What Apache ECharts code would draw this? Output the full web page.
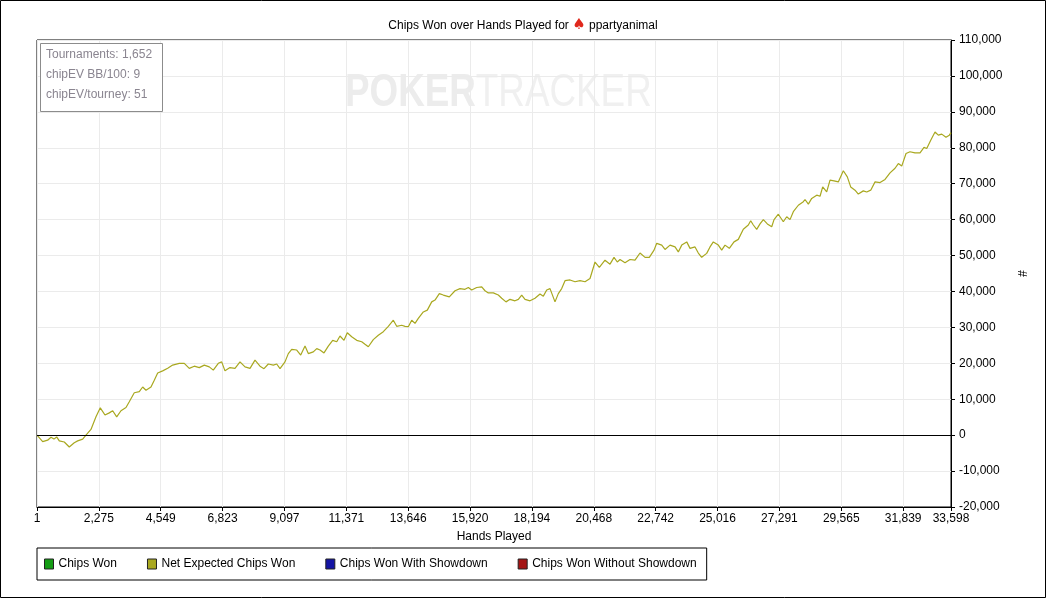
<!DOCTYPE html>
<html lang="en">
<head>
<meta charset="UTF-8">
<title>Chips Won over Hands Played</title>
<script src="https://cdn.jsdelivr.net/npm/echarts@6/dist/echarts.min.js"></script>
<style>
  html, body { margin: 0; padding: 0; background: #fff; }
  #main { width: 1046px; height: 598px; }
</style>
</head>
<body>
<div id="main"></div>
<script>
// hands played (x) and net expected chips won (y)
var hands = [
  1, 27, 210, 393, 515, 625, 724, 820, 1004, 1187, 1371, 1496, 1680, 1801, 1985,
  2169, 2327, 2500, 2658, 2783, 2930, 3088, 3272, 3393, 3577, 3761, 3886, 4007, 4191, 4312,
  4437, 4621, 4805, 4988, 5231, 5415, 5599, 5782, 5966, 6150, 6334, 6481, 6665, 6790, 6911,
  7095, 7279, 7463, 7647, 7831, 8014, 8198, 8345, 8503, 8687, 8812, 8934, 9117, 9239, 9364,
  9548, 9695, 9853, 9974, 10158, 10283, 10404, 10551, 10709, 10870, 11018, 11139, 11286, 11407, 11569,
  11753, 11937, 12058, 12180, 12363, 12547, 12731, 12915, 13099, 13223, 13407, 13529, 13650, 13775, 13896,
  14017, 14201, 14348, 14510, 14631, 14790, 14936, 15157, 15367, 15550, 15734, 15856, 15980, 16164, 16348,
  16469, 16591, 16775, 16958, 17082, 17241, 17388, 17572, 17694, 17818, 17940, 18124, 18307, 18491, 18613,
  18737, 18859, 19042, 19164, 19288, 19410, 19594, 19778, 19962, 20145, 20329, 20513, 20671, 20880, 21064,
  21211, 21332, 21432, 21615, 21799, 21983, 22167, 22351, 22509, 22682, 22781, 22965, 23086, 23270, 23454,
  23575, 23700, 23884, 24005, 24189, 24310, 24434, 24618, 24740, 24861, 25045, 25169, 25291, 25449, 25622,
  25780, 25964, 26148, 26236, 26332, 26456, 26578, 26700, 26847, 27008, 27093, 27251, 27434, 27559, 27681,
  27802, 27986, 28170, 28232, 28354, 28478, 28662, 28784, 28882, 29029, 29151, 29298, 29456, 29640, 29787,
  29911, 30070, 30191, 30375, 30500, 30647, 30806, 30990, 31173, 31357, 31541, 31662, 31787, 31945, 32091,
  32275, 32459, 32606, 32706, 32853, 33011, 33132, 33257, 33414, 33536, 33598
];
var netExpected = [
  0, 0, -1800, -1400, -600, -1100, -500, -1600, -1900, -3300, -2100, -1600, -1100, 0, 1600,
  5100, 7600, 5600, 6200, 6800, 5100, 6800, 7700, 9300, 11800, 12100, 13400, 12500, 13400, 15300,
  17300, 17900, 18600, 19500, 20000, 20000, 18600, 19200, 18800, 19500, 19000, 18100, 20000, 20400, 17900,
  18800, 18600, 20400, 19000, 18600, 20900, 19200, 18500, 19800, 19500, 19800, 18500, 20400, 22700, 23900,
  23700, 22300, 24800, 22700, 23200, 24100, 23700, 22900, 24800, 26400, 26000, 27600, 26400, 28500, 27400,
  26400, 26000, 25300, 24600, 26600, 27800, 28800, 30300, 32000, 30300, 30600, 30300, 30200, 32000, 31100,
  32500, 34300, 34800, 37100, 37600, 39400, 39000, 38500, 40200, 40800, 40600, 41100, 40400, 41100, 41300,
  40200, 39600, 39600, 39000, 38100, 37100, 37800, 37400, 37800, 39000, 37800, 37400, 38100, 39300, 38700,
  40400, 40800, 37100, 39400, 40800, 43000, 43200, 42700, 43000, 42700, 43600, 48200, 46700, 48700, 47600,
  49500, 48200, 48900, 48000, 48900, 48700, 50700, 49500, 49500, 51500, 53400, 52900, 51700, 52900, 52400,
  51000, 52900, 53800, 52000, 52400, 50700, 49500, 50600, 52400, 53800, 52900, 51500, 52900, 52000, 53800,
  54500, 57300, 58500, 59700, 58500, 57300, 58800, 60000, 58800, 58000, 60000, 61500, 59400, 60800, 60000,
  62200, 64000, 65000, 65600, 64300, 65900, 66800, 66500, 69100, 67700, 71000, 70800, 70500, 73600, 71900,
  69100, 68200, 67100, 68000, 67700, 68200, 70500, 70300, 71200, 73000, 74300, 75600, 74900, 78400, 78900,
  78600, 78600, 80100, 79800, 82100, 84400, 83500, 83800, 82900, 83500, 84200
];

var seriesNames = ['Chips Won', 'Net Expected Chips Won', 'Chips Won With Showdown', 'Chips Won Without Showdown'];
var seriesColors = ['#149c14', '#a9a820', '#1414a4', '#a41414'];
var infoLines = ['Tournaments: 1,652', 'chipEV BB/100: 9', 'chipEV/tourney: 51'];
var handTickStep = 2274.17;   // x ticks: 1, 2,275, 4,549 ... 31,839, 33,598

var fmt = function (v) { return Math.round(v).toLocaleString('en-US'); };
var FONT = 'Liberation Sans';

var myChart = echarts.init(document.getElementById('main'));

var series = seriesNames.map(function (name, i) {
  return {
    name: name,
    type: 'line',
    showSymbol: false,
    silent: true,
    lineStyle: { width: 1.2, color: seriesColors[i] },
    itemStyle: { color: seriesColors[i] },
    data: []
  };
});
// only the net expected line is plotted; x is stored as hands-1 so ticks start at 0
series[1].data = hands.map(function (h, i) { return [h - 1, netExpected[i]]; });
series[1].markLine = {
  silent: true,
  symbol: 'none',
  label: { show: false },
  lineStyle: { color: '#000', width: 1, type: 'solid' },
  data: [{ yAxis: 0 }]
};

myChart.setOption({
  animation: false,
  backgroundColor: '#fff',
  textStyle: { fontFamily: FONT },
  title: {
    left: 'center',
    top: 13,
    text: '{t|Chips Won over Hands Played for }{s|♠}{t| ppartyanimal}',
    textStyle: {
      fontWeight: 'normal',
      rich: {
        t: { fontFamily: FONT, fontSize: 12, fontWeight: 'normal', color: '#000' },
        s: { fontFamily: 'DejaVu Sans', fontSize: 15, color: '#e0281c' }
      }
    }
  },
  grid: {
    left: 37, right: 95, top: 40, bottom: 91,
    show: true, borderColor: '#000', borderWidth: 1
  },
  legend: {
    left: 37,
    top: 548,
    padding: [10, 10, 10, 7],
    itemGap: 30,
    itemWidth: 9,
    itemHeight: 10,
    icon: 'rect',
    borderColor: '#000',
    borderWidth: 1,
    borderRadius: 0,
    itemStyle: { borderColor: '#222', borderWidth: 1 },
    textStyle: { fontFamily: FONT, fontSize: 12, color: '#000' },
    data: seriesNames
  },
  xAxis: {
    type: 'value',
    min: 0,
    max: 33597,
    interval: handTickStep,
    name: 'Hands Played',
    nameLocation: 'middle',
    nameGap: 24,
    nameTextStyle: { fontFamily: FONT, fontSize: 12, color: '#000' },
    axisLine: { onZero: false, lineStyle: { color: '#000', width: 1 } },
    axisTick: { show: true, length: 4, lineStyle: { color: '#000' } },
    axisLabel: {
      margin: 6,
      fontFamily: FONT, fontSize: 12, color: '#000',
      formatter: function (v) { return (Math.floor(v + 1e-6) + 1).toLocaleString('en-US'); }
    },
    splitLine: { show: true, lineStyle: { color: '#ebebeb', width: 1 } }
  },
  yAxis: {
    type: 'value',
    position: 'right',
    min: -20000,
    max: 110000,
    interval: 10000,
    name: '#',
    nameLocation: 'middle',
    nameGap: 64,
    nameRotate: -90,
    nameTextStyle: { fontFamily: FONT, fontSize: 12, color: '#000' },
    axisLine: { show: true, onZero: false, lineStyle: { color: '#000', width: 1 } },
    axisTick: { show: true, length: 4, lineStyle: { color: '#000' } },
    axisLabel: {
      margin: 8,
      fontFamily: FONT, fontSize: 12, color: '#000',
      formatter: fmt
    },
    splitLine: { show: true, lineStyle: { color: '#ebebeb', width: 1 } }
  },
  graphic: [
    {
      type: 'text',
      left: 345,
      top: 70,
      scaleX: 0.8,
      z: 0,
      silent: true,
      style: {
        text: '{a|POKER}{b|TRACKER}',
        rich: {
          a: { fontFamily: FONT, fontWeight: 'bold', fontSize: 46, fill: '#ececec' },
          b: { fontFamily: FONT, fontSize: 46, fill: '#f0f0f0' }
        }
      }
    },
    {
      type: 'rect',
      z: 50,
      silent: true,
      shape: { x: 40.5, y: 43.5, width: 122, height: 68 },
      style: { fill: '#fff', stroke: '#8c8c8c', lineWidth: 1 }
    },
    {
      type: 'group',
      left: 46,
      top: 49,
      z: 51,
      children: infoLines.map(function (line, i) {
        return {
          type: 'text',
          z: 51,
          x: 0,
          y: i * 20,
          style: {
            text: line,
            fontFamily: FONT, fontSize: 12, fill: '#8a8590'
          }
        };
      })
    },
    {
      type: 'rect',
      silent: true,
      z: 100,
      shape: { x: 0.5, y: 0.5, width: 1045, height: 597 },
      style: { fill: null, stroke: '#000', lineWidth: 1 }
    }
  ],
  series: series
});
</script>
</body>
</html>
